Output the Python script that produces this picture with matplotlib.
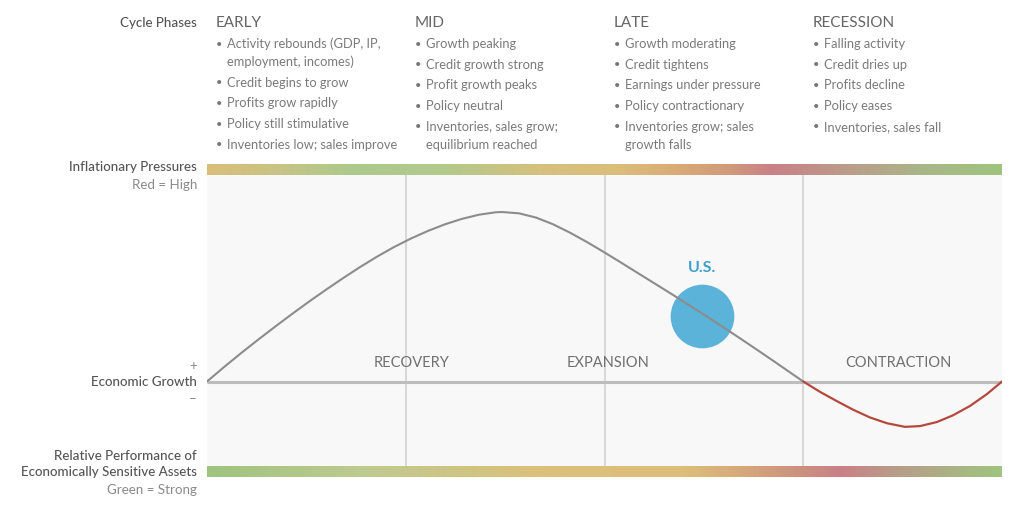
import matplotlib
matplotlib.use("Agg")
import matplotlib.pyplot as plt
import numpy as np
from matplotlib.colors import LinearSegmentedColormap

plt.rcParams['font.family'] = ['Lato', 'DejaVu Sans']

# ---------------- data ----------------
phases = ["EARLY", "MID", "LATE", "RECESSION"]
phase_bullets = [
    [("Activity rebounds (GDP, IP,", "employment, incomes)"), ("Credit begins to grow",),
     ("Profits grow rapidly",), ("Policy still stimulative",), ("Inventories low; sales improve",)],
    [("Growth peaking",), ("Credit growth strong",), ("Profit growth peaks",),
     ("Policy neutral",), ("Inventories, sales grow;", "equilibrium reached")],
    [("Growth moderating",), ("Credit tightens",), ("Earnings under pressure",),
     ("Policy contractionary",), ("Inventories grow; sales", "growth falls")],
    [("Falling activity",), ("Credit dries up",), ("Profits decline",),
     ("Policy eases",), ("Inventories, sales fall",)],
]
regions = ["RECOVERY", "EXPANSION", "CONTRACTION"]
region_x = [1.03, 2.02, 3.48]

# growth curve (phase units on x, growth index on y, peak = 1)
growth_x = [0.0, 0.0855, 0.1711, 0.2566, 0.3421, 0.4277, 0.5132, 0.5987, 0.6843,
            0.7698, 0.8553, 0.9409, 1.0264, 1.1119, 1.1975, 1.2830, 1.3686, 1.4541,
            1.4843, 1.5698, 1.6553, 1.7409, 1.8264, 1.9119, 1.9975, 2.0830, 2.1686,
            2.2541, 2.3396, 2.4252, 2.5107, 2.5962, 2.6818, 2.7673, 2.8528, 2.9384, 3.0]
growth_y = [0.0, 0.0849, 0.1670, 0.2461, 0.3230, 0.3982, 0.4713, 0.5414, 0.6096,
            0.6750, 0.7364, 0.7932, 0.8437, 0.8884, 0.9275, 0.9596, 0.9840, 0.9986,
            1.0, 0.9921, 0.9673, 0.9277, 0.8781, 0.8227, 0.7632, 0.7017, 0.6393,
            0.5769, 0.5145, 0.4510, 0.3866, 0.3212, 0.2548, 0.1874, 0.1191, 0.0497, 0.0]
contr_x = [3.0, 3.0855, 3.1711, 3.2503, 3.3358, 3.4214, 3.5119, 3.5874, 3.6730,
           3.7535, 3.8390, 3.9245, 4.0]
contr_y = [0.0, -0.0619, -0.1171, -0.1661, -0.2122, -0.2463, -0.2676, -0.2631,
           -0.2389, -0.1994, -0.1442, -0.0740, 0.0]

us_label = "U.S."
us_x, us_y = 2.49, 0.386

infl_stops = [(0.0, "#d9be7a"), (0.09, "#c7c486"), (0.18, "#acc98c"), (0.30, "#b3c98c"),
              (0.42, "#d6c07e"), (0.52, "#dcbd7a"), (0.60, "#d8a877"), (0.66, "#d09a7c"),
              (0.71, "#c98086"), (0.80, "#bc9a8a"), (0.90, "#a9b688"), (1.0, "#9fc47f")]
perf_stops = [(0.0, "#9fc47f"), (0.20, "#bfca8f"), (0.42, "#dcc07a"), (0.60, "#dcbe7a"),
              (0.68, "#d6a67a"), (0.75, "#cc9080"), (0.80, "#c98086"), (0.87, "#b89d8a"),
              (1.0, "#9fc47f")]

# ---------------- layout ----------------
W, H = 1024, 505
fig = plt.figure(figsize=(W / 100, H / 100), dpi=100)
fig.patch.set_facecolor("white")

def fx(px):
    return px / W

def fy(py):
    return 1 - py / H

base_py = 381.5
unit = 169.5
def gy(py):
    return (base_py - py) / unit

ax = fig.add_axes([fx(207), fy(477), fx(1002) - fx(207), fy(164) - fy(477)])
ax.set_xlim(0, 4)
ax.set_ylim(gy(477), gy(164))
ax.axis("off")

top0, top1 = gy(175), gy(164)
bot0, bot1 = gy(477), gy(466)

ax.add_patch(plt.Rectangle((0, bot1), 4, top0 - bot1, color="#f8f8f8", zorder=0, lw=0))

def bar(stops, y0, y1):
    cmap = LinearSegmentedColormap.from_list("g", stops)
    grad = cmap(np.linspace(0, 1, 800))[None, :, :]
    ax.imshow(grad, extent=[0, 4, y0, y1], aspect="auto", zorder=1, interpolation="bilinear")

bar(infl_stops, top0, top1)
bar(perf_stops, bot0, bot1)

ax.vlines([1, 2, 3], bot1, top0, color="#d2d2d2", lw=1.2, zorder=2)
ax.hlines(0, 0, 4, color="#bdbdbd", lw=2.2, zorder=3)

ax.scatter([us_x], [us_y], s=2100, color="#5bb3d9", zorder=4, linewidths=0)
ax.text(us_x, gy(268), us_label, ha="center", va="center", color="#3c9fcc",
        fontsize=11.5, fontweight="bold", zorder=6)

ax.plot(growth_x, growth_y, color="#8c8c8c", lw=1.5, zorder=5, solid_capstyle="round",
        solid_joinstyle="round")
ax.plot(contr_x, contr_y, color="#b54a3c", lw=1.6, zorder=5, solid_capstyle="round",
        solid_joinstyle="round")

for name, x in zip(regions, region_x):
    ax.text(x, gy(363), name, ha="center", va="center", color="#707070", fontsize=10.5)

# ---------------- top text ----------------
lab_col = "#555555"
sub_col = "#8a8a8a"
fig.text(fx(197), fy(23), "Cycle Phases", ha="right", va="center", color=lab_col,
         fontsize=9.6, fontweight="medium")

col_x = [216, 415, 614, 813]
for i, (ph, bl) in enumerate(zip(phases, phase_bullets)):
    x0 = col_x[i]
    fig.text(fx(x0), fy(23), ph, ha="left", va="center", color="#666666", fontsize=11)
    py = 44
    for item in bl:
        fig.text(fx(x0), fy(py), "•", ha="left", va="center", color="#777777", fontsize=8)
        for j, line in enumerate(item):
            fig.text(fx(x0 + 11), fy(py), line, ha="left", va="center", color="#7a7a7a",
                     fontsize=9.3)
            if j < len(item) - 1:
                py += 18
        py += 20.7

# ---------------- left labels ----------------
fs = 9.6
fig.text(fx(197), fy(167), "Inflationary Pressures", ha="right", va="center", color=lab_col,
         fontsize=fs, fontweight="medium")
fig.text(fx(197), fy(185), "Red = High", ha="right", va="center", color=sub_col, fontsize=fs)
fig.text(fx(197), fy(366), "+", ha="right", va="center", color=sub_col, fontsize=fs)
fig.text(fx(197), fy(382), "Economic Growth", ha="right", va="center", color=lab_col,
         fontsize=fs, fontweight="medium")
fig.text(fx(197), fy(399), "–", ha="right", va="center", color=sub_col, fontsize=fs)
fig.text(fx(197), fy(456), "Relative Performance of", ha="right", va="center", color=lab_col,
         fontsize=fs, fontweight="medium")
fig.text(fx(197), fy(472), "Economically Sensitive Assets", ha="right", va="center",
         color=lab_col, fontsize=fs, fontweight="medium")
fig.text(fx(197), fy(490), "Green = Strong", ha="right", va="center", color=sub_col,
         fontsize=fs)

fig.savefig("out.png", dpi=100, facecolor="white")
